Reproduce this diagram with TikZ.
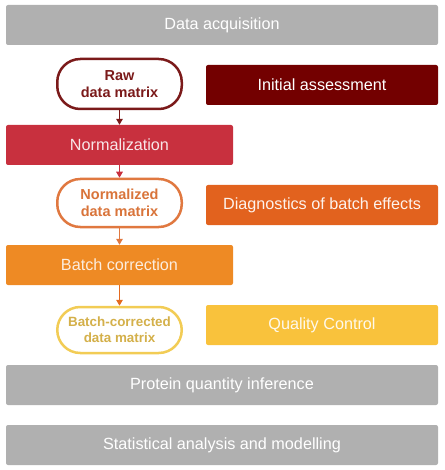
\documentclass[tikz,border=0pt]{standalone}
\usepackage{fontspec}
\setmainfont{Liberation Sans}
\usetikzlibrary{arrows.meta}
\definecolor{cgray}{HTML}{B0B0B0}
\definecolor{cdark}{HTML}{730000}
\definecolor{cdarkline}{HTML}{7B1A1A}
\definecolor{ccrim}{HTML}{C8303E}
\definecolor{corgline}{HTML}{E07840}
\definecolor{corgtext}{HTML}{D9743A}
\definecolor{cdiag}{HTML}{E2621E}
\definecolor{cbc}{HTML}{EE8A24}
\definecolor{cyelline}{HTML}{F2CC55}
\definecolor{cyeltext}{HTML}{D4B04A}
\definecolor{cqc}{HTML}{F9C23C}
\tikzset{
  box/.style={rectangle, rounded corners=2pt, inner sep=0pt, minimum height=40pt,
    text=white, font=\fontsize{16.2}{19}\selectfont},
  widebox/.style={box, fill=cgray, minimum width=432pt},
  leftbox/.style={box, minimum width=227pt},
  rightbox/.style={box, minimum width=232pt},
  pill/.style={rectangle, rounded corners=23pt, draw, line width=2.5pt, fill=white,
    minimum width=124.5pt, align=center, inner sep=0pt,
    font=\bfseries\fontsize{14.5}{16.5}\selectfont},
  flow/.style={line width=1.6pt, -{Triangle[length=6pt,width=6.5pt]}}
}
\begin{document}
\begin{tikzpicture}[x=1pt,y=-1pt]
\useasboundingbox (0,0) rectangle (444,470);
\node[widebox] (acq) at (222,25) {Data acquisition};
\node[pill, draw=cdarkline, text=cdarkline, minimum height=50pt] (raw) at (119.5,84) {Raw\\data matrix};
\node[rightbox, fill=cdark] (init) at (322,85) {Initial assessment};
\node[leftbox, fill=ccrim, text={white!88!ccrim}] (norm) at (119.5,145) {Normalization};
\node[pill, draw=corgline, text=corgtext, minimum height=48pt] (normd) at (119.5,203) {Normalized\\data matrix};
\node[rightbox, fill=cdiag, text={white!92!cdiag}] (diag) at (322,205) {Diagnostics of batch effects};
\node[leftbox, fill=cbc, text={white!85!cbc}] (bc) at (119.5,265) {Batch correction};
\node[pill, draw=cyelline, text=cyeltext, minimum height=46pt, font=\bfseries\fontsize{13.4}{16}\selectfont] (bcd) at (119.5,330) {Batch-corrected\\data matrix};
\node[rightbox, fill=cqc, text={white!90!cqc}] (qc) at (322,325) {Quality Control};
\node[widebox] (prot) at (222,385) {Protein quantity inference};
\node[widebox] (stat) at (222,445) {Statistical analysis and modelling};
\draw[flow, cdarkline] (raw) -- (norm);
\draw[flow, ccrim] (norm) -- (normd);
\draw[flow, corgline] (normd) -- (bc);
\draw[flow, cdiag!80!cbc] (bc) -- (bcd);
\end{tikzpicture}
\end{document}
